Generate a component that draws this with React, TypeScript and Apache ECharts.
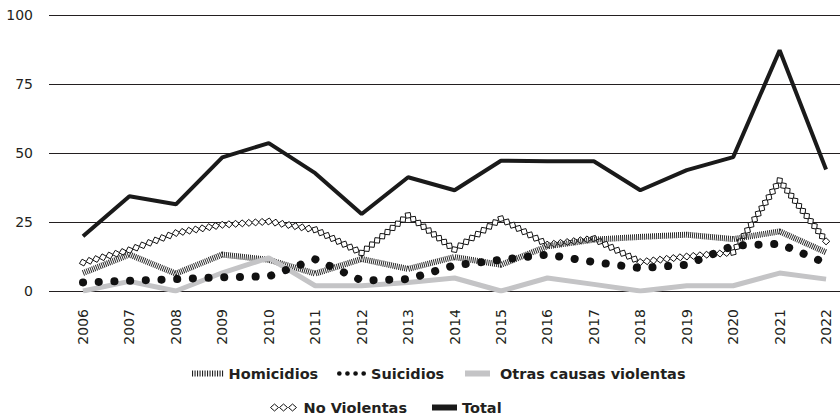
import React, { useEffect, useRef } from "react";
import * as echarts from "echarts";

const years = [2006, 2007, 2008, 2009, 2010, 2011, 2012, 2013, 2014, 2015, 2016, 2017, 2018, 2019, 2020, 2021, 2022];
const homicidios = [6.5, 13.2, 6.3, 13.2, 11.3, 6.3, 11.6, 8.0, 12.3, 9.5, 16.2, 18.6, 19.6, 20.4, 18.8, 21.6, 14.0];
const suicidios = [3.1, 3.7, 4.3, 5.0, 5.3, 11.5, 3.8, 4.3, 9.3, 11.3, 13.2, 10.5, 8.3, 9.5, 16.4, 17.1, 10.1];
const otras = [0, 3.5, 0, 6.6, 12.0, 1.9, 1.9, 3.1, 4.7, 0, 4.7, 2.4, 0, 1.9, 1.9, 6.5, 4.3];
const noViolentas = [10.3, 14.8, 21.0, 24.0, 25.2, 22.2, 13.8, 27.4, 15.0, 26.2, 16.8, 19.0, 10.5, 12.5, 14.0, 40.0, 18.0];
const total = [19.8, 34.3, 31.4, 48.4, 53.6, 42.7, 27.9, 41.2, 36.5, 47.2, 47.0, 47.0, 36.5, 43.8, 48.5, 87.2, 44.0];
const yTicks = [0, 25, 50, 75, 100];

const FONT = "'DejaVu Sans', sans-serif";
const INK = "#231f20";

const stripeIcon =
  "path://" + Array.from({ length: 13 }, (_, i) => `M${i * 2.5} 0h1.1v6h-1.1Z`).join("");
const dotIcon =
  "path://" +
  [2.3, 10.3, 18.3, 26.3].map((cx) => `M${cx - 2.3} 3a2.3 2.3 0 1 0 4.6 0a2.3 2.3 0 1 0 -4.6 0Z`).join("");
const grayIcon = "path://M0 0h25v6h-25Z M29.99 2.99h0.01v0.01h-0.01Z";
const diamondIcon =
  "path://" + [4, 13, 22].map((cx) => `M${cx - 4} 4L${cx} 0.5L${cx + 4} 4L${cx} 7.5Z`).join("");

function diamondRenderItem(params: any, api: any) {
  const i = params.dataIndex;
  const p0 = api.coord([years[i], noViolentas[i]]);
  const hasNext = i < years.length - 1;
  const p1 = hasNext ? api.coord([years[i + 1], noViolentas[i + 1]]) : p0;
  const dx = p1[0] - p0[0];
  const dy = p1[1] - p0[1];
  const len = Math.hypot(dx, dy);
  const n = hasNext ? Math.max(1, Math.round(len / 6.6)) : 1;
  const ux = len ? dx / len : 1;
  const uy = len ? dy / len : 0;
  const a = 3.7;
  const b = 3.5;
  const children: any[] = [];
  for (let k = 0; k < n; k++) {
    const t = k / n;
    const cx = p0[0] + dx * t;
    const cy = p0[1] + dy * t;
    children.push({
      type: "polygon",
      shape: {
        points: [
          [cx + ux * a, cy + uy * a],
          [cx - uy * b, cy + ux * b],
          [cx - ux * a, cy - uy * a],
          [cx + uy * b, cy - ux * b],
        ],
      },
      style: { fill: "#ffffff", stroke: "#111111", lineWidth: 1 },
    });
  }
  return { type: "group", children };
}

export default function App() {
  const ref = useRef<HTMLDivElement>(null);
  useEffect(() => {
    if (!ref.current) return;
    const chart = echarts.init(ref.current, null, { renderer: "svg" });
    const legendText = { fontFamily: FONT, fontWeight: "bold" as const, fontSize: 14.5, color: INK };
    const leg = (name: string, icon: string, itemStyle: any, left: number, top: number, itemWidth: number, itemHeight: number) => ({
      left,
      top,
      padding: 0,
      itemWidth,
      itemHeight,
      textStyle: legendText,
      data: [{ name, icon, itemStyle }],
    });
    chart.setOption({
      animation: false,
      backgroundColor: "#ffffff",
      grid: { left: 49, right: 0, top: 15, bottom: 125, outerBoundsMode: "none" },
      xAxis: {
        type: "value",
        min: 2005.268,
        max: 2022.3,
        axisLine: { show: false },
        axisTick: { show: false },
        splitLine: { show: false },
        axisLabel: {
          customValues: years,
          rotate: 90,
          margin: 18,
          fontFamily: FONT,
          fontSize: 14,
          color: INK,
          formatter: (v: number) => String(v),
        },
      },
      yAxis: {
        type: "value",
        min: 0,
        max: 100,
        interval: 25,
        axisLine: { show: false },
        axisTick: { show: false },
        axisLabel: {
          customValues: yTicks,
          margin: 16,
          fontFamily: FONT,
          fontSize: 14,
          color: INK,
        },
        splitLine: { show: true, lineStyle: { color: INK, width: 1 } },
      },
      legend: [
        leg("Homicidios", stripeIcon, { color: "#222", borderWidth: 0 }, 192, 366, 32, 6),
        leg("Suicidios", dotIcon, { color: "#111", borderWidth: 0 }, 337, 366, 29, 5),
        leg("Otras causas violentas", grayIcon, { color: "#c4c4c6", borderWidth: 0 }, 465, 366, 30, 6),
        leg("No Violentas", diamondIcon, { color: "#fff", borderColor: "#111", borderWidth: 1 }, 270, 400, 30, 7),
        leg("Total", "rect", { color: "#1a1a1a", borderWidth: 0 }, 432, 400, 25, 6),
      ],
      series: [
        {
          name: "Homicidios",
          type: "line",
          symbol: "none",
          data: years.map((y, i) => [y, homicidios[i]]),
          lineStyle: { color: "#2a2a2a", width: 6, type: [1, 1], cap: "butt" },
          itemStyle: { color: "#2a2a2a" },
        },
        {
          name: "Otras causas violentas",
          type: "line",
          symbol: "none",
          data: years.map((y, i) => [y, otras[i]]),
          lineStyle: { color: "#c4c4c6", width: 5 },
          itemStyle: { color: "#c4c4c6" },
        },
        {
          name: "Suicidios",
          type: "line",
          symbol: "none",
          data: years.map((y, i) => [y, suicidios[i]]),
          lineStyle: { color: "#111111", width: 8, type: [0.1, 15.6], cap: "round" },
          itemStyle: { color: "#111111" },
        },
        {
          name: "No Violentas",
          type: "custom",
          coordinateSystem: "cartesian2d",
          data: years.map((y, i) => [y, noViolentas[i]]),
          encode: { x: 0, y: 1 },
          renderItem: diamondRenderItem,
          itemStyle: { color: "#111111" },
        },
        {
          name: "Total",
          type: "line",
          symbol: "none",
          data: years.map((y, i) => [y, total[i]]),
          lineStyle: { color: "#1a1a1a", width: 4 },
          itemStyle: { color: "#1a1a1a" },
        },
      ],
    });
    return () => chart.dispose();
  }, []);
  return (
    <div
      ref={ref}
      style={{ position: "fixed", left: 0, top: 0, width: 840, height: 416, background: "#fff" }}
    />
  );
}
